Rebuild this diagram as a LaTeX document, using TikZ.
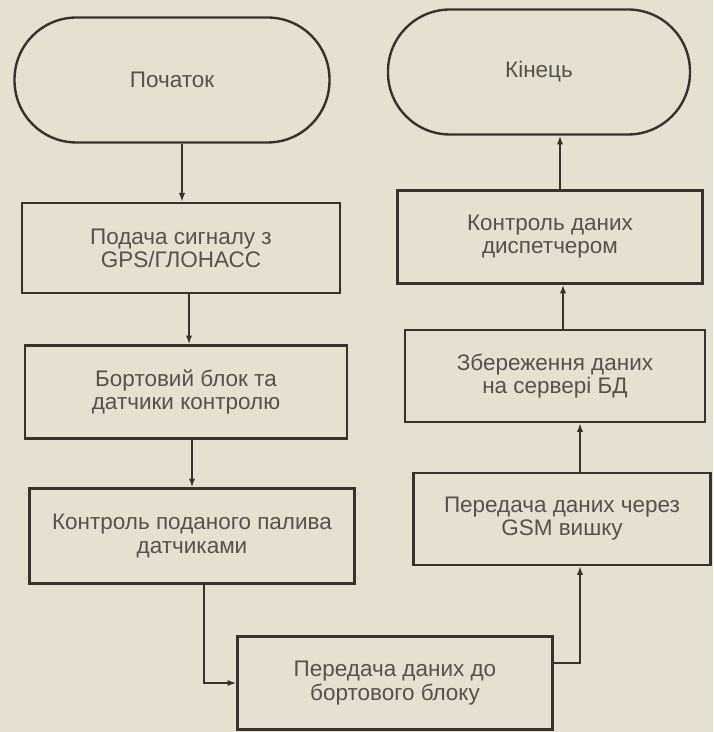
\documentclass[tikz,border=0pt]{standalone}
\usepackage{fontspec}
\setmainfont{Liberation Sans}
\usetikzlibrary{arrows.meta}
\definecolor{paper}{RGB}{230,224,208}
\definecolor{ink}{RGB}{55,50,45}
\definecolor{txt}{RGB}{85,81,76}
\begin{document}
\begin{tikzpicture}[
        box/.style={draw=ink, line width=1.7pt, text=txt, align=center, inner sep=0pt,
            font=\fontsize{16}{16.5}\selectfont, minimum height=2.3cm},
        term/.style={box, rounded corners=1.55cm, minimum height=3.125cm},
        flow/.style={draw=ink, line width=1.5pt, -{Latex[length=2.2mm,width=1.6mm]}}
    ]
                        \fill [paper] (0, 0) rectangle (17.825, 18.3);
                        \useasboundingbox (0, 0) rectangle (17.825, 18.3);

                        \node [term, minimum width=7.875cm] at (4.3, 16.3) (start) {Початок};
                        \node [term, minimum width=7.55cm] at (13.475, 16.5) (finish) {Кінець};
                        \node [box, minimum width=7.95cm, minimum height=2.25cm] at (4.525, 12.1) (gps) {Подача сигналу з\\GPS/ГЛОНАСС};
                        \node [box, minimum width=8.05cm, minimum height=2.325cm] at (4.65, 8.5) (unit) {Бортовий блок та\\датчики контролю};
                        \node [box, minimum width=8.125cm, minimum height=2.375cm] at (4.8, 4.9) (fuel) {Контроль поданого палива\\датчиками};
                        \node [box, minimum width=7.875cm, minimum height=2.325cm] at (9.875, 1.225) (send) {Передача даних до\\бортового блоку};
                        \node [box, minimum width=7.425cm] at (14.05, 5.325) (gsm) {Передача даних через\\GSM вишку};
                        \node [box, minimum width=7.5cm] at (13.875, 8.9) (store) {Збереження даних\\на сервері БД};
                        \node [box, minimum width=7.625cm, minimum height=2.325cm] at (13.75, 12.375) (disp) {Контроль даних\\диспетчером};

                        \path
                            ([xshift=0.25cm]start.south) edge [flow] ([xshift=0.25cm]start.south |- gps.north)
                            ([xshift=0.2cm]gps.south) edge [flow] ([xshift=0.2cm]gps.south |- unit.north)
                            ([xshift=0.15cm]unit.south) edge [flow] ([xshift=0.15cm]unit.south |- fuel.north)
                            ([xshift=0.45cm]gsm.north) edge [flow] ([xshift=0.45cm]gsm.north |- store.south)
                            ([xshift=0.2cm]store.north) edge [flow] ([xshift=0.2cm]store.north |- disp.south)
                            ([xshift=0.25cm]disp.north) edge [flow] ([xshift=0.25cm]disp.north |- finish.south);
                        \draw [flow] ([xshift=0.3cm]fuel.south) |- (send.west);
                        \draw [flow] ([yshift=0.5cm]send.east) -| ([xshift=0.45cm]gsm.south);
                    \end{tikzpicture}
\end{document}
